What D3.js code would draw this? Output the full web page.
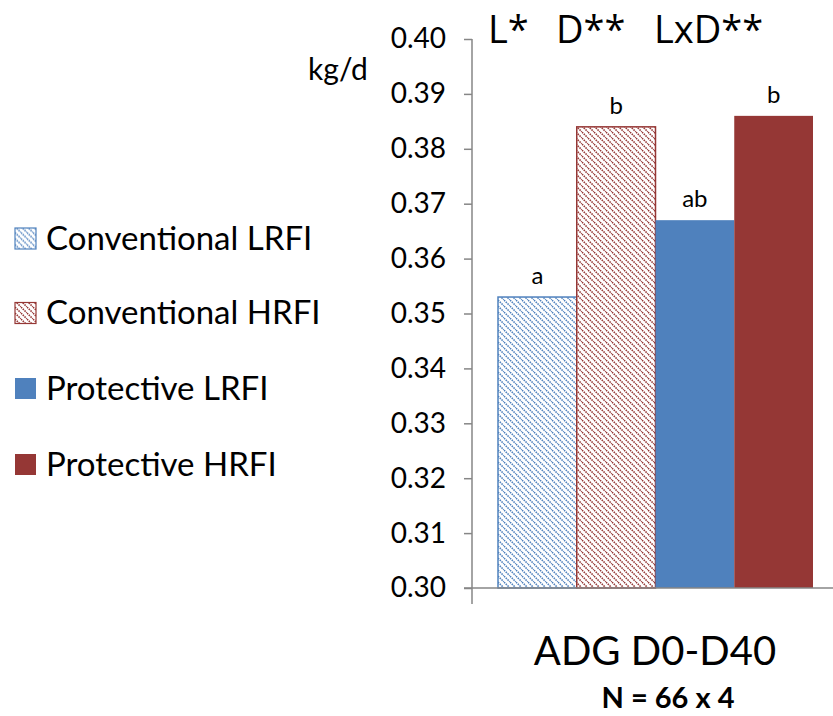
<!DOCTYPE html>
<html lang="en">
<head>
<meta charset="utf-8">
<style>
  body { margin: 0; background: #fff; }
  svg { font-family: Lato, "Open Sans", sans-serif; }
</style>
</head>
<body>
<svg id="chart" width="833" height="716"></svg>
<script src="https://d3js.org/d3.v7.min.js"></script>
<script>
const groups = ["Conventional LRFI", "Conventional HRFI", "Protective LRFI", "Protective HRFI"];
const values = [0.353, 0.384, 0.367, 0.386];
const letters = ["a", "b", "ab", "b"];
const colors = ["#4f81bd", "#953735", "#4f81bd", "#953735"];
const hatched = [true, true, false, false];
const yTicks = [0.30, 0.31, 0.32, 0.33, 0.34, 0.35, 0.36, 0.37, 0.38, 0.39, 0.40];
const effects = ["L*", "D**", "LxD**"];

const svg = d3.select("#chart");
const defs = svg.append("defs");

// diagonal hatch for the conventional groups
["blue", "red"].forEach(function (k, i) {
  const c = i === 0 ? "#4f81bd" : "#953735";
  const p = defs.append("pattern")
    .attr("id", "hatch-" + k)
    .attr("patternUnits", "userSpaceOnUse")
    .attr("width", 6).attr("height", 6);
  p.append("rect").attr("width", 6).attr("height", 6).attr("fill", "#fff");
  p.append("path")
    .attr("d", "M0,0 L6,6 M-3,3 L3,9 M3,-3 L9,3")
    .attr("stroke", c).attr("stroke-width", 1.6)
    .attr("stroke-dasharray", "1.5,1");
});

function fillFor(i) {
  return hatched[i] ? (i === 0 ? "url(#hatch-blue)" : "url(#hatch-red)") : colors[i];
}

const y = d3.scaleLinear().domain([0.30, 0.40]).range([588, 39]);
const x = d3.scaleBand().domain(groups).range([498, 813]).padding(0);

// y axis
const yAxis = svg.append("g")
  .attr("transform", "translate(472,0)")
  .call(d3.axisLeft(y).tickValues(yTicks).tickFormat(d3.format(".2f")).tickSize(8).tickPadding(18));
yAxis.select(".domain").remove();
yAxis.selectAll(".tick line").attr("stroke", "#868686").attr("stroke-width", 1.5);
yAxis.selectAll(".tick text").attr("font-size", 28).attr("fill", "#000")
  .attr("font-family", "Lato, sans-serif");
svg.append("line").attr("x1", 472).attr("x2", 472).attr("y1", y(0.40)).attr("y2", 604)
  .attr("stroke", "#868686").attr("stroke-width", 1.5);

// bars
svg.selectAll("rect.bar")
  .data(groups)
  .enter()
  .append("rect")
  .attr("class", "bar")
  .attr("x", d => x(d))
  .attr("width", x.bandwidth())
  .attr("y", (d, i) => y(values[i]))
  .attr("height", (d, i) => y(0.30) - y(values[i]))
  .attr("fill", (d, i) => fillFor(i))
  .attr("stroke", (d, i) => hatched[i] ? colors[i] : "none")
  .attr("stroke-width", 1.5);

// x baseline
svg.append("line").attr("x1", 464).attr("x2", 833).attr("y1", y(0.30)).attr("y2", y(0.30))
  .attr("stroke", "#868686").attr("stroke-width", 1.5);

// significance letters
svg.selectAll("text.letter")
  .data(groups)
  .enter()
  .append("text")
  .attr("class", "letter")
  .attr("x", d => x(d) + x.bandwidth() / 2)
  .attr("y", (d, i) => y(values[i]) - 13)
  .attr("text-anchor", "middle")
  .attr("font-size", 24)
  .text((d, i) => letters[i]);

// effects line
const effX = [488, 556, 654];
svg.selectAll("text.eff")
  .data(effects)
  .enter()
  .append("text")
  .attr("class", "eff")
  .attr("x", (d, i) => effX[i])
  .attr("y", 43)
  .attr("font-size", 38)
  .attr("font-family", "'Open Sans', sans-serif")
  .text(d => d);

svg.append("text").attr("x", 338).attr("y", 80).attr("font-size", 30)
  .attr("text-anchor", "middle").text("kg/d");
svg.append("text").attr("x", 655).attr("y", 665).attr("font-size", 40)
  .attr("text-anchor", "middle").text("ADG D0-D40");
svg.append("text").attr("x", 668).attr("y", 708).attr("font-size", 29)
  .attr("font-weight", "bold").attr("text-anchor", "middle").text("N = 66 x 4");

// legend
const legY = [238.5, 313, 388.5, 464.5];
const leg = svg.selectAll("g.leg")
  .data(groups)
  .enter()
  .append("g")
  .attr("class", "leg")
  .attr("transform", (d, i) => "translate(15," + legY[i] + ")");
leg.append("rect")
  .attr("x", 0).attr("y", -10.5).attr("width", 21).attr("height", 21)
  .attr("fill", (d, i) => fillFor(i))
  .attr("stroke", (d, i) => hatched[i] ? colors[i] : "none")
  .attr("stroke-width", 1.2);
leg.append("text")
  .attr("x", 31).attr("y", 11)
  .attr("font-size", 33)
  .text(d => d);
</script>
</body>
</html>
